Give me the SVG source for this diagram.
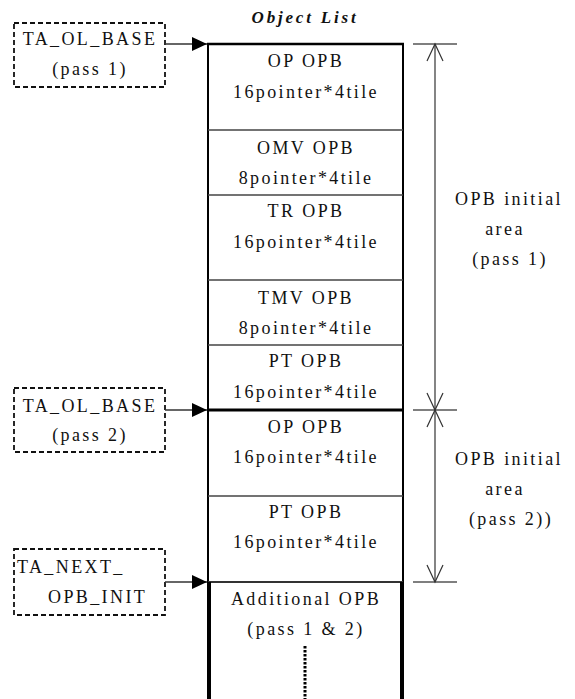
<svg xmlns="http://www.w3.org/2000/svg" width="575" height="699" viewBox="0 0 575 699" font-family="'Liberation Serif', 'Times New Roman', 'DejaVu Serif', serif">
<style>
text{font-family:'Liberation Serif','Times New Roman','DejaVu Serif',serif;font-size:18px;fill:#111;letter-spacing:2.4px}
.c{text-anchor:middle}
.title{font-weight:bold;font-style:italic;font-size:17px;letter-spacing:2.8px}
.dash{fill:none;stroke:#111;stroke-width:1.8;stroke-dasharray:5 3}
.sep{stroke:#444;stroke-width:1.5}
.dim{stroke:#333;stroke-width:1.2;fill:none}
.tick{stroke:#555;stroke-width:1.5}
.conn{stroke:#333;stroke-width:1.5}
</style>
<defs>
<marker id="ah" markerWidth="15" markerHeight="14" refX="15" refY="7" orient="auto" markerUnits="userSpaceOnUse">
<path d="M0,0 L15,7 L0,14 Z" fill="#000"/>
</marker>
</defs>
<text class="title c" x="305" y="23">Object List</text>

<g id="objlist">
<rect x="208" y="44" width="195" height="366" fill="#fff" stroke="#000" stroke-width="2"/>
<line x1="207" y1="44" x2="404" y2="44" stroke="#000" stroke-width="2.5"/>
<line class="sep" x1="208" y1="130" x2="403" y2="130"/>
<line class="sep" x1="208" y1="195" x2="403" y2="195"/>
<line class="sep" x1="208" y1="280" x2="403" y2="280"/>
<line class="sep" x1="208" y1="345" x2="403" y2="345"/>
<line x1="207" y1="410" x2="404" y2="410" stroke="#000" stroke-width="3"/>
<line x1="208" y1="410" x2="208" y2="582" stroke="#000" stroke-width="2"/>
<line x1="403" y1="410" x2="403" y2="582" stroke="#000" stroke-width="2"/>
<line class="sep" x1="208" y1="496" x2="403" y2="496"/>
<line x1="208" y1="582" x2="403" y2="582" stroke="#333" stroke-width="2"/>
<line x1="209" y1="582" x2="209" y2="699" stroke="#000" stroke-width="4"/>
<line x1="402" y1="582" x2="402" y2="699" stroke="#000" stroke-width="4"/>
<line x1="305" y1="646" x2="305" y2="699" stroke="#000" stroke-width="3" stroke-dasharray="2.5 1.5"/>
</g>

<g id="op1"><text class="c" x="306" y="67">OP OPB</text><text class="c" x="306" y="98">16pointer*4tile</text></g>
<g id="omv"><text class="c" x="306" y="154">OMV OPB</text><text class="c" x="306" y="184">8pointer*4tile</text></g>
<g id="tr"><text class="c" x="306" y="217">TR OPB</text><text class="c" x="306" y="248">16pointer*4tile</text></g>
<g id="tmv"><text class="c" x="306" y="304">TMV OPB</text><text class="c" x="306" y="334">8pointer*4tile</text></g>
<g id="pt1"><text class="c" x="306" y="367">PT OPB</text><text class="c" x="306" y="398">16pointer*4tile</text></g>
<g id="op2"><text class="c" x="306" y="433">OP OPB</text><text class="c" x="306" y="463">16pointer*4tile</text></g>
<g id="pt2"><text class="c" x="306" y="518">PT OPB</text><text class="c" x="306" y="548">16pointer*4tile</text></g>
<g id="add"><text class="c" x="306" y="605">Additional OPB</text><text class="c" x="306" y="635">(pass 1 &amp; 2)</text></g>

<g id="base1">
<rect class="dash" x="14" y="23" width="151" height="64"/>
<text class="c" x="90" y="45">TA_OL_BASE</text>
<text class="c" x="90" y="75">(pass 1)</text>
</g>
<g id="base2">
<rect class="dash" x="14" y="388" width="151" height="64"/>
<text class="c" x="90" y="412">TA_OL_BASE</text>
<text class="c" x="90" y="441">(pass 2)</text>
</g>
<g id="next">
<rect class="dash" x="14" y="549" width="151" height="66"/>
<text x="17" y="573">TA_NEXT_</text>
<text x="48" y="603">OPB_INIT</text>
</g>

<g id="area1">
<text class="c" x="509" y="205">OPB initial</text>
<text class="c" x="505" y="235">area</text>
<text class="c" x="510" y="265">(pass 1)</text>
</g>
<g id="area2">
<text class="c" x="509" y="465">OPB initial</text>
<text class="c" x="505" y="495">area</text>
<text class="c" x="511" y="525">(pass 2))</text>
</g>

<g id="connectors">
<line class="conn" x1="165" y1="44" x2="207" y2="44" marker-end="url(#ah)"/>
<line class="conn" x1="165" y1="410" x2="207" y2="410" marker-end="url(#ah)"/>
<line class="conn" x1="165" y1="582" x2="207" y2="582" marker-end="url(#ah)"/>
<line class="tick" x1="413" y1="44" x2="457" y2="44"/>
<line class="tick" x1="413" y1="410" x2="457" y2="410"/>
<line class="tick" x1="413" y1="582" x2="457" y2="582"/>
<line class="dim" x1="435" y1="44" x2="435" y2="582"/>
<path class="dim" d="M427,61 L435,44 L443,61"/>
<path class="dim" d="M427,393 L435,410 L443,393"/>
<path class="dim" d="M427,427 L435,410 L443,427"/>
<path class="dim" d="M427,565 L435,582 L443,565"/>
</g>
</svg>
